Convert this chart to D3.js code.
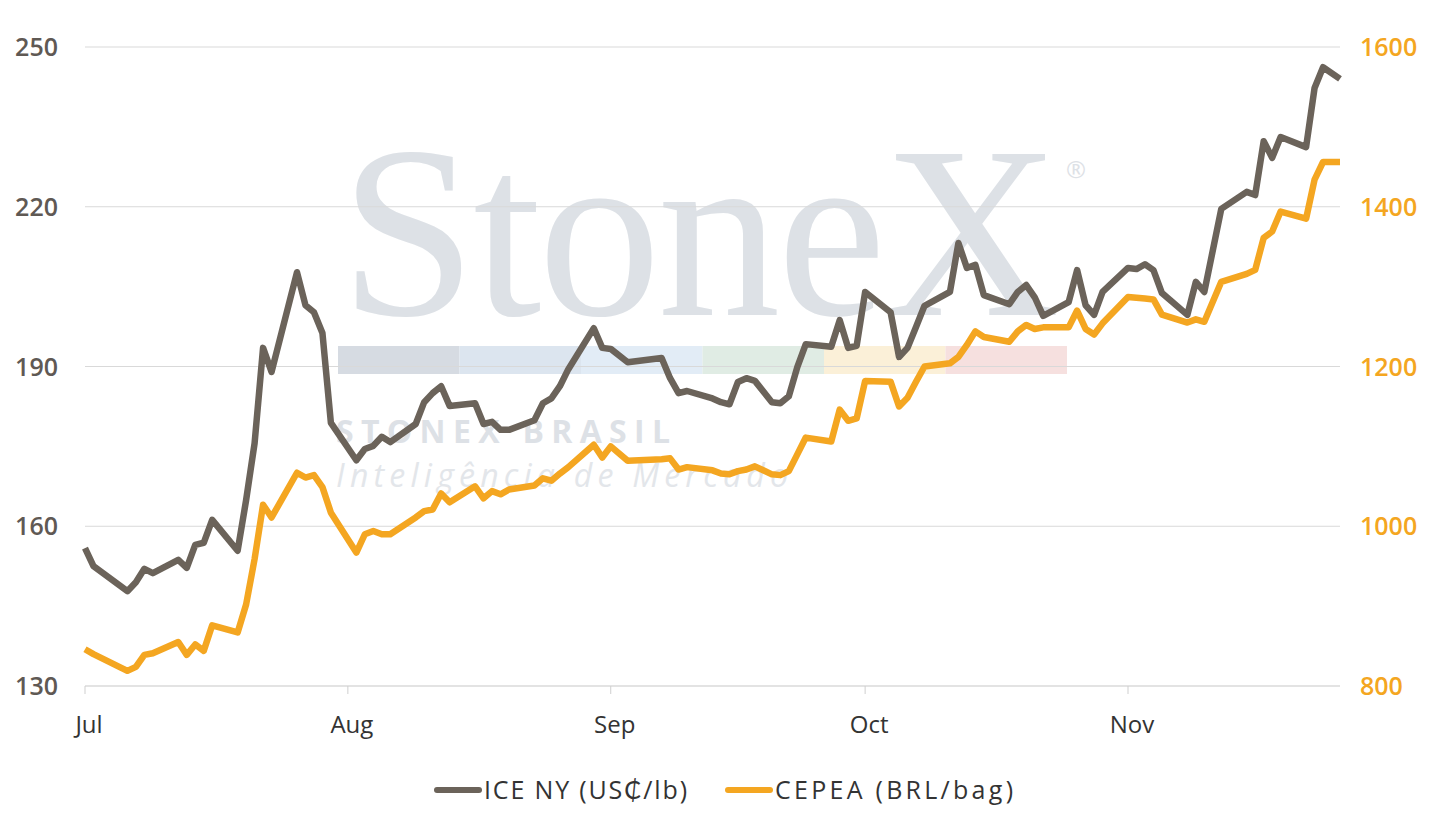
<!DOCTYPE html>
<html><head><meta charset="utf-8">
<script src="https://cdn.jsdelivr.net/npm/d3@7"></script>
<style>body{margin:0;background:#fff}svg{font-family:"Open Sans",Lato,sans-serif}</style>
</head><body><svg id="c" width="1445" height="827"></svg>
<script>
const dates=["2021-07-01","2021-07-02","2021-07-06","2021-07-07","2021-07-08","2021-07-09","2021-07-12","2021-07-13","2021-07-14","2021-07-15","2021-07-16","2021-07-19","2021-07-20","2021-07-21","2021-07-22","2021-07-23","2021-07-26","2021-07-27","2021-07-28","2021-07-29","2021-07-30",
"2021-08-02","2021-08-03","2021-08-04","2021-08-05","2021-08-06","2021-08-09","2021-08-10","2021-08-11","2021-08-12","2021-08-13","2021-08-16","2021-08-17","2021-08-18","2021-08-19","2021-08-20","2021-08-23","2021-08-24","2021-08-25","2021-08-26","2021-08-27","2021-08-30","2021-08-31",
"2021-09-01","2021-09-03","2021-09-07","2021-09-08","2021-09-09","2021-09-10","2021-09-13","2021-09-14","2021-09-15","2021-09-16","2021-09-17","2021-09-18","2021-09-20","2021-09-21","2021-09-22","2021-09-23","2021-09-24","2021-09-27","2021-09-28","2021-09-29","2021-09-30",
"2021-10-01","2021-10-04","2021-10-05","2021-10-06","2021-10-07","2021-10-08","2021-10-11","2021-10-12","2021-10-13","2021-10-14","2021-10-15","2021-10-18","2021-10-19","2021-10-20","2021-10-21","2021-10-22","2021-10-25","2021-10-26","2021-10-27","2021-10-28","2021-10-29",
"2021-11-01","2021-11-02","2021-11-03","2021-11-04","2021-11-05","2021-11-08","2021-11-09","2021-11-10","2021-11-12","2021-11-15","2021-11-16","2021-11-17","2021-11-18","2021-11-19","2021-11-22","2021-11-23","2021-11-24","2021-11-26"];
const iceNY=[155.9,152.5,147.8,149.5,152.0,151.2,153.7,152.2,156.5,156.9,161.2,155.4,164.9,175.6,193.5,189.0,207.7,201.5,200.2,196.3,179.4,
172.4,174.5,175.1,176.8,175.8,179.2,183.3,185.0,186.3,182.6,183.1,179.2,179.6,178.1,178.1,179.9,183.1,184.0,186.3,189.5,197.2,193.5,
193.3,190.8,191.6,187.8,185.0,185.4,184.0,183.3,182.9,187.1,187.8,187.3,183.3,183.1,184.4,189.9,194.2,193.7,198.7,193.5,193.9,
204.0,200.2,191.8,193.5,197.4,201.4,204.0,213.2,208.5,209.1,203.4,201.7,204.0,205.3,203.0,199.5,202.1,208.1,201.5,199.7,204.0,
208.5,208.3,209.2,208.1,203.8,199.7,205.9,204.0,219.6,222.8,222.2,232.3,229.2,233.1,231.2,242.3,246.2,244.0];
const cepea=[846,840,819,824,839,841,855,839,852,844,876,867,902,959,1027,1011,1067,1061,1064,1049,1017,
967,990,994,990,990,1011,1019,1021,1041,1030,1050,1035,1044,1040,1046,1051,1060,1057,1066,1074,1102,1086,
1100,1082,1084,1085,1071,1074,1070,1066,1065,1069,1071,1075,1065,1064,1069,1090,1111,1106,1146,1132,1135,
1182,1181,1150,1161,1181,1200,1204,1212,1227,1244,1237,1231,1244,1252,1247,1249,1249,1270,1247,1240,1254,
1287,1286,1285,1284,1265,1255,1259,1256,1306,1316,1321,1361,1369,1394,1385,1434,1456,1456];
const leftTicks=[130,160,190,220,250], rightTicks=[800,1000,1200,1400,1600];
const monthTicks=["2021-07-01","2021-08-01","2021-09-01","2021-10-01","2021-11-01"];
const seriesNames=["ICE NY (US₵/lb)","CEPEA (BRL/bag)"];

const svg=d3.select("#c");
const p=d3.timeParse("%Y-%m-%d");
const x=d3.scaleTime().domain([p("2021-07-01"),p("2021-11-26")]).range([85,1340]);
const yL=d3.scaleLinear().domain([130,250]).range([686,47]);
const yR=d3.scaleLinear().domain([800,1600]).range([686,47]);
const GRAY="#6b635a", ORANGE="#f4a621";

// watermark
const wm=svg.append("g");
wm.append("text").attr("x",700).attr("y",315).attr("text-anchor","middle").attr("font-family","Liberation Serif,serif").attr("font-size",245).attr("textLength",720).attr("fill","#dde1e6").text("StoneX");
wm.append("text").attr("x",1066).attr("y",178).attr("font-size",24).attr("fill","#dde1e6").text("®");
["#d6dbe2","#dce5ef","#e2ecf6","#e0ece4","#fbf0d8","#f6e0df"].forEach((c,i)=>wm.append("rect").attr("x",338+i*121.5).attr("y",346).attr("width",121.5).attr("height",28).attr("fill",c));
wm.append("text").attr("x",336).attr("y",443).attr("font-size",32).attr("font-weight","bold").attr("textLength",334).attr("fill","#dde1e6").text("STONEX BRASIL");
wm.append("text").attr("x",336).attr("y",487).attr("font-size",32).attr("font-style","italic").attr("textLength",452).attr("fill","#e3e6ea").text("Inteligência de Mercado");

// grid
svg.append("g").selectAll("line").data(leftTicks).join("line").attr("x1",85).attr("x2",1340).attr("y1",d=>yL(d)).attr("y2",d=>yL(d)).attr("stroke","#d9d9d9").attr("stroke-width",1.2);
svg.append("g").selectAll("text").data(leftTicks).join("text").attr("x",58).attr("y",d=>yL(d)+9).attr("text-anchor","end").attr("font-size",25).attr("font-weight",600).attr("fill","#5f5954").text(d=>d);
svg.append("g").selectAll("text").data(rightTicks).join("text").attr("x",1360).attr("y",d=>yR(d)+9).attr("font-size",25).attr("font-weight",600).attr("fill",ORANGE).text(d=>d);
// x axis
svg.append("line").attr("x1",85).attr("x2",1340).attr("y1",686).attr("y2",686).attr("stroke","#d9d9d9").attr("stroke-width",1.2);
const mt=monthTicks.map(p);
svg.append("g").selectAll("line").data(mt).join("line").attr("x1",d=>x(d)).attr("x2",d=>x(d)).attr("y1",686).attr("y2",694).attr("stroke","#cfcfcf");
svg.append("g").selectAll("text").data(mt).join("text").attr("x",d=>x(d)+4).attr("y",733).attr("text-anchor","middle").attr("font-size",24).attr("fill","#333").text(d3.timeFormat("%b"));

const dd=dates.map(p);
svg.append("path").datum(cepea).attr("d",d3.line().x((d,i)=>x(dd[i])).y(d=>yR(d))).attr("fill","none").attr("stroke",ORANGE).attr("stroke-width",6.5).attr("stroke-linejoin","round");
svg.append("path").datum(iceNY).attr("d",d3.line().x((d,i)=>x(dd[i])).y(d=>yL(d))).attr("fill","none").attr("stroke",GRAY).attr("stroke-width",6.5).attr("stroke-linejoin","round");

// legend
const lg=svg.append("g");
[[437,GRAY,seriesNames[0],203],[728,ORANGE,seriesNames[1],238]].forEach(([lx,c,t,w])=>{
  lg.append("line").attr("x1",lx).attr("x2",lx+42).attr("y1",790).attr("y2",790).attr("stroke",c).attr("stroke-width",6).attr("stroke-linecap","round");
  lg.append("text").attr("x",lx+47).attr("y",799).attr("font-size",25).attr("textLength",w).attr("fill","#333").text(t);
});
</script></body></html>
